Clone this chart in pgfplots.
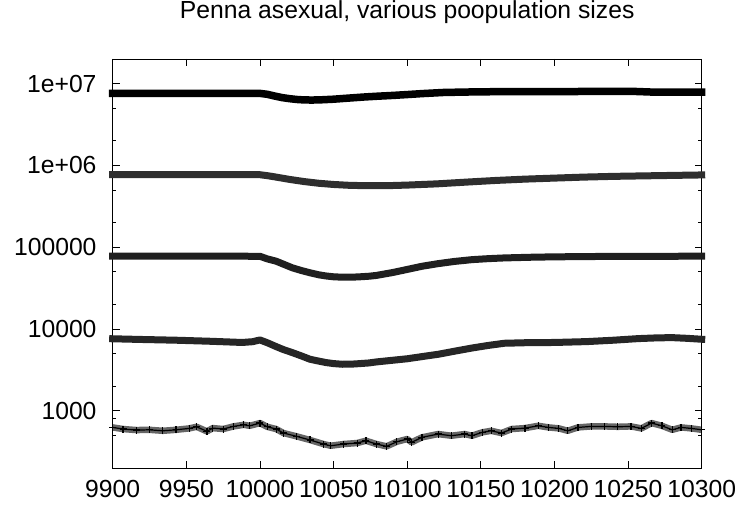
\documentclass[border=0pt]{standalone}
\usepackage{pgfplots}
\pgfplotsset{compat=1.18}
\usepackage{fontspec}
\setmainfont{Liberation Sans}
\begin{document}
\begin{tikzpicture}
\begin{axis}[
  name=ax,
  scale only axis, width=589pt, height=409pt,
  ymode=log, log basis y=10,
  xmin=9900, xmax=10300, ymin=200, ymax=2e7,
  xtick={9900,9950,10000,10050,10100,10150,10200,10250,10300},
  xticklabels={9900,9950,10000,10050,10100,10150,10200,10250,10300},
  ytick={1000,10000,100000,1000000,10000000},
  yticklabels={1000,10000,100000,1e+06,1e+07},
  minor ytick={200,500,800,2000,5000,20000,50000,200000,500000,2000000,5000000},
  tick align=inside,
  major tick length=7pt, minor tick length=3.5pt,
  every tick/.style={black, line width=0.8pt},
  axis line style={line width=0.8pt},
  ticklabel style={font=\fontsize{24.7}{29}\selectfont},
  xticklabel style={anchor=north, inner sep=0pt, yshift=-12.5pt},
  yticklabel style={anchor=east, inner sep=0pt, xshift=-16pt},
  /pgf/number format/assume math mode=true,
  title={Penna asexual, various poopulation sizes},
  title style={font=\fontsize{24.7}{29}\selectfont, anchor=base, at={(0.5,1)}, yshift=34pt, inner sep=0pt},
  clip=false,
]
% series 1 (~1e7)
\addplot[black, line width=7.5pt, line join=round, line cap=rect, mark=none] coordinates {
(9900,7.6e6)(9950,7.6e6)(10000,7.6e6)(10005,7.4e6)(10010,7.05e6)(10015,6.75e6)(10020,6.55e6)(10025,6.4e6)(10030,6.32e6)(10035,6.3e6)(10040,6.32e6)(10050,6.45e6)(10060,6.65e6)(10070,6.85e6)(10080,7.02e6)(10090,7.17e6)(10100,7.35e6)(10110,7.55e6)(10125,7.8e6)(10150,7.95e6)(10200,8.0e6)(10230,8.02e6)(10255,8.02e6)(10265,7.9e6)(10300,7.85e6)
};
% series 2 (~1e6)
\addplot[black!82, line width=7pt, line join=round, line cap=rect, mark=none] coordinates {
(9900,7.7e5)(9950,7.7e5)(10000,7.7e5)(10005,7.5e5)(10010,7.25e5)(10020,6.75e5)(10030,6.35e5)(10040,6.05e5)(10050,5.85e5)(10060,5.72e5)(10070,5.66e5)(10080,5.65e5)(10090,5.68e5)(10100,5.75e5)(10120,5.95e5)(10140,6.25e5)(10160,6.55e5)(10180,6.8e5)(10200,7.0e5)(10220,7.2e5)(10240,7.35e5)(10260,7.45e5)(10280,7.55e5)(10300,7.65e5)
};
% series 3 (~1e5)
\addplot[black!88, line width=7pt, line join=round, line cap=rect, mark=none] coordinates {
(9900,7.8e4)(9950,7.8e4)(10000,7.75e4)(10005,7.2e4)(10011,6.75e4)(10016,6.2e4)(10022,5.6e4)(10028,5.2e4)(10034,4.87e4)(10040,4.6e4)(10045,4.45e4)(10050,4.35e4)(10056,4.3e4)(10062,4.3e4)(10068,4.35e4)(10074,4.42e4)(10079,4.52e4)(10090,4.9e4)(10100,5.35e4)(10110,5.85e4)(10121,6.3e4)(10132,6.7e4)(10144,7.05e4)(10155,7.25e4)(10166,7.4e4)(10185,7.55e4)(10200,7.63e4)(10234,7.72e4)(10300,7.77e4)
};
% series 4 (~1e4)
\addplot[black!85, line width=7pt, line join=round, line cap=rect, mark=none] coordinates {
(9900,7600)(9920,7450)(9943,7300)(9965,7100)(9988,6850)(9995,7000)(10000,7350)(10005,6800)(10011,6100)(10016,5600)(10022,5150)(10028,4700)(10034,4270)(10040,4050)(10045,3890)(10050,3780)(10056,3710)(10062,3720)(10068,3780)(10074,3850)(10079,3960)(10090,4150)(10100,4330)(10110,4600)(10121,4910)(10132,5350)(10144,5860)(10155,6300)(10166,6700)(10180,6800)(10200,6850)(10222,7020)(10240,7300)(10257,7640)(10270,7800)(10280,7850)(10290,7700)(10300,7500)
};
% series 5 (~1e3)
\addplot[black!60, line width=6.5pt, line join=round, mark=none] coordinates {
(9900,627)(9907,599)(9916,582)(9925,586)(9934,570)(9943,586)(9952,610)(9957,638)(9964,561)(9968,615)(9975,599)(9982,645)(9989,675)(9993,656)(10000,708)(10005,638)(10011,599)(10016,535)(10025,487)(10034,440)(10043,393)(10048,374)(10057,393)(10066,404)(10072,431)(10079,393)(10086,368)(10093,419)(10100,452)(10103,412)(10110,474)(10121,520)(10130,496)(10139,520)(10144,496)(10151,546)(10157,570)(10164,535)(10171,599)(10180,615)(10189,656)(10196,627)(10203,610)(10209,570)(10216,627)(10225,645)(10234,645)(10243,638)(10252,645)(10259,610)(10266,708)(10273,656)(10280,586)(10286,627)(10293,610)(10300,586)
};
\addplot[black, line width=1.2pt, line join=round, mark=+, mark size=3.5pt, mark options={line width=1.2pt}] coordinates {
(9900,627)(9907,599)(9916,582)(9925,586)(9934,570)(9943,586)(9952,610)(9957,638)(9964,561)(9968,615)(9975,599)(9982,645)(9989,675)(9993,656)(10000,708)(10005,638)(10011,599)(10016,535)(10025,487)(10034,440)(10043,393)(10048,374)(10057,393)(10066,404)(10072,431)(10079,393)(10086,368)(10093,419)(10100,452)(10103,412)(10110,474)(10121,520)(10130,496)(10139,520)(10144,496)(10151,546)(10157,570)(10164,535)(10171,599)(10180,615)(10189,656)(10196,627)(10203,610)(10209,570)(10216,627)(10225,645)(10234,645)(10243,638)(10252,645)(10259,610)(10266,708)(10273,656)(10280,586)(10286,627)(10293,610)(10300,586)
};
\end{axis}
\pgfresetboundingbox
\path[use as bounding box] ([xshift=-112.7pt,yshift=-42pt]ax.south west) rectangle ([xshift=37.3pt,yshift=59pt]ax.north east);
\end{tikzpicture}
\end{document}
